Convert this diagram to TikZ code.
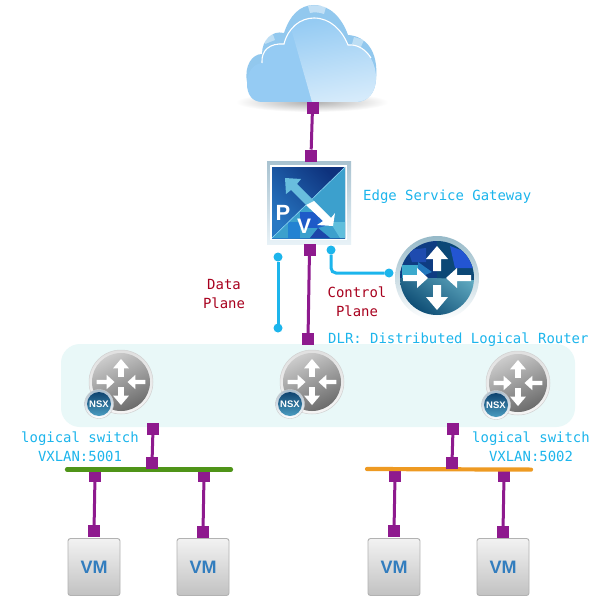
\documentclass[tikz,border=0pt]{standalone}
\usepackage{fontspec}
\newfontfamily\labelfont{DejaVu Sans Mono}
\newfontfamily\iconfont{Liberation Sans}
\definecolor{portc}{HTML}{8E1A8E}
\definecolor{cyanc}{HTML}{1CB5EC}
\definecolor{redc}{HTML}{A8001E}
\definecolor{bandc}{HTML}{E9F8F8}
\definecolor{greenc}{HTML}{4F9418}
\definecolor{orangec}{HTML}{EE9A22}
\definecolor{vmtext}{HTML}{327DBE}
\definecolor{badgetop}{HTML}{0F4470}
\definecolor{badgebot}{HTML}{4A9CC0}
\newcommand{\routerarrows}[1]{%
  \begin{scope}[scale=#1]
    \foreach \a in {0,180}
      \fill[white,rotate=\a] (34,-3)--(20,-3)--(20,-10)--(9,0)--(20,10)--(20,3)--(34,3)--cycle;
    \foreach \a in {90,270}
      \fill[white,rotate=\a] (7,-4)--(19,-4)--(19,-11)--(32,0)--(19,11)--(19,4)--(7,4)--cycle;
  \end{scope}}
\tikzset{
  port/.style={fill=portc,draw=none,minimum size=12pt,inner sep=0pt,outer sep=0pt},
  link/.style={draw=portc,line width=3pt},
  dot/.style={circle,fill=cyanc,draw=none,minimum size=9pt,inner sep=0pt,outer sep=0pt},
  ctl/.style={draw=cyanc,line width=3pt,rounded corners=5pt},
  bar/.style={line width=4.2pt,line cap=round},
  blue label/.style={text=cyanc,font=\labelfont\fontsize{13.95}{19}\selectfont,align=center,inner sep=0pt},
  red label/.style={text=redc,font=\labelfont\fontsize{13.95}{19}\selectfont,align=center,inner sep=0pt},
  pics/nsxrouter/.style={code={
    \shade[top color=white!88!black,bottom color=white!96!black,draw=white!82!black,line width=.5pt] (0,0) circle[radius=32pt];
    \shade[shading=axis,left color=white!80!black,right color=white!42!black,shading angle=25] (0,0) circle[radius=29pt];
    \routerarrows{.72}
    \shade[top color=white!65!badgetop,bottom color=white,draw=white!80!black,line width=.4pt] (-22,22) circle[radius=14.5pt];
    \shade[top color=badgetop,bottom color=badgebot] (-22,22) circle[radius=12pt];
    \node[white,inner sep=0pt,font=\iconfont\bfseries\fontsize{9.5}{10}\selectfont] at (-22,22) {NSX};
  }},
  pics/vmbox/.style={code={
    \shade[top color=white!95!black,bottom color=white!76!black,draw=white!70!black,line width=.9pt,rounded corners=2.5pt] (-26,-28.5) rectangle (26,28.5);
    \node[text=vmtext,inner sep=0pt,font=\iconfont\bfseries\fontsize{18}{18}\selectfont] at (0,0) {VM};
  }}
}
\begin{document}
\begin{tikzpicture}[x=1pt,y=-1pt]
\useasboundingbox (0,0) rectangle (615,607);
\fill[white] (0,0) rectangle (615,607);

% cloud
\shade[inner color=black!32,outer color=white] (312,102) ellipse[x radius=76pt,y radius=10pt];
\fill[fill={rgb,255:red,146;green,200;blue,238}] (247,82) .. controls (244,66) and (252,54) .. (262,54)
  .. controls (262,40) and (272,30) .. (284,33)
  .. controls (290,15) and (300,5) .. (314,5)
  .. controls (330,5) and (342,18) .. (348,35)
  .. controls (365,36) and (379,50) .. (376,80) -- (300,90) -- cycle;
\fill[white,opacity=.45] (308,6) .. controls (314,5) and (318,5) .. (326,7) -- (324,14) .. controls (318,12) and (314,12) .. (310,13) -- cycle;
\fill[white,opacity=.4] (262,36) -- (272,32) -- (275,40) -- (265,44) -- cycle;
\fill[white,opacity=.4] (354,37) -- (364,40) -- (360,49) -- (352,44) -- cycle;
\def\cloudfront{(262,102) .. controls (252,102) and (247,94) .. (247,84)
  .. controls (247,72) and (253,64) .. (262,63)
  .. controls (261,50) and (270,43) .. (284,44)
  .. controls (288,28) and (300,18) .. (314,18)
  .. controls (330,18) and (342,30) .. (348,45)
  .. controls (364,44) and (376,60) .. (376,78)
  .. controls (376,92) and (368,102) .. (356,102) -- cycle}
\fill[fill={rgb,255:red,149;green,203;blue,243}] \cloudfront;
\begin{scope}
  \clip \cloudfront;
  \shade[shading=axis,left color={rgb,255:red,149;green,203;blue,243},right color={rgb,255:red,214;green,235;blue,251},shading angle=10]
    (288,18) -- (380,18) -- (380,102) -- (312,102) -- cycle;
\end{scope}
\draw[white,line width=1.1pt] (262,63) .. controls (261,50) and (270,43) .. (284,44)
  .. controls (288,28) and (300,18) .. (314,18)
  .. controls (330,18) and (342,30) .. (348,45)
  .. controls (358,44) and (366,50) .. (371,58);

% ESG icon
\shade[top color={rgb,255:red,168;green,194;blue,208},bottom color={rgb,255:red,232;green,242;blue,247}] (267,161) rectangle (351,244);
\fill[white] (270,165) rectangle (347,240);
\begin{scope}
  \clip (272,167) rectangle (345,238);
  \shade[shading=axis,left color={rgb,255:red,14;green,50;blue,125},right color={rgb,255:red,40;green,120;blue,195},shading angle=-45] (272,167) rectangle (345,238);
  \fill[fill={rgb,255:red,60;green,160;blue,205}] (272,238) -- (345,167) -- (345,238) -- cycle;
  \fill[fill={rgb,255:red,30;green,90;blue,200}] (300,212) -- (318,212) -- (318,228) -- (300,228) -- cycle;
  \fill[fill={rgb,255:red,35;green,130;blue,210}] (288,222) -- (300,222) -- (300,238) -- (288,238) -- cycle;
  \fill[fill={rgb,255:red,28;green,70;blue,170}] (318,228) -- (330,238) -- (310,238) -- cycle;
  \fill[fill={rgb,255:red,95;green,190;blue,220}] (330,222) -- (345,222) -- (345,238) -- (340,238) -- cycle;
  \fill[fill={rgb,255:red,30;green,100;blue,200}] (318,215) -- (328,225) -- (318,228) -- cycle;
  \draw[white!60!cyan,line width=.5pt] (272,238) -- (345,167);
\end{scope}
\fill[fill={rgb,255:red,105;green,190;blue,222}] (285,178) -- (301,179) -- (297,184) -- (315,202) -- (309,208) -- (291,190) -- (286,194) -- cycle;
\fill[white] (314,201) -- (331,218) -- (335,213) -- (333,226) -- (317,225) -- (323,221) -- (306,205) -- cycle;
\node[white,inner sep=0pt,font=\iconfont\bfseries\fontsize{22}{22}\selectfont] (pletter) at (283,213) {P};
\node[white,inner sep=0pt,font=\iconfont\bfseries\fontsize{21}{21}\selectfont] (vletter) at (304,226) {V};

% top router
\shade[top color={rgb,255:red,150;green,185;blue,200},bottom color=white] (437,278) circle[radius=42pt];
\begin{scope}
  \clip (437,278) circle[radius=37pt];
  \shade[shading=axis,left color={rgb,255:red,110;green,185;blue,205},right color={rgb,255:red,12;green,75;blue,115},shading angle=-35] (400,255) rectangle (474,315);
  \fill[fill={rgb,255:red,12;green,72;blue,118}] (437,241) -- (474,241) -- (474,280) -- (437,278) -- cycle;
  \fill[fill={rgb,255:red,14;green,60;blue,130}] (400,241) -- (437,241) -- (437,278) -- (400,278) -- cycle;
  \fill[fill={rgb,255:red,35;green,85;blue,210}] (450,246) -- (466,252) -- (474,268) -- (455,268) -- cycle;
  \fill[fill={rgb,255:red,30;green,75;blue,175}] (408,250) -- (426,248) -- (426,262) -- (412,262) -- cycle;
  \fill[fill={rgb,255:red,60;green,170;blue,205}] (402,265) -- (418,265) -- (418,278) -- (402,278) -- cycle;
  \fill[fill={rgb,255:red,35;green,120;blue,190}] (418,262) -- (432,272) -- (418,278) -- cycle;
  \begin{scope}[shift={(437,278)}]\routerarrows{1}\end{scope}
\end{scope}

% DLR band
\fill[bandc,rounded corners=19pt] (61,344) rectangle (575,427);
\pic at (121,382) {nsxrouter};
\pic at (312,382) {nsxrouter};
\pic at (518,383) {nsxrouter};

% VMs
\pic at (94,567) {vmbox};
\pic at (203,567) {vmbox};
\pic at (394,567) {vmbox};
\pic at (503,567) {vmbox};

% ports
\node[port] (cloudp) at (312.5,108) {};
\node[port] (esgt) at (311,155.5) {};
\node[port] (esgb) at (309.5,250) {};
\node[port] (dlrt) at (308,339) {};
\node[port] (l1t) at (153,429) {};
\node[port] (l1a) at (95,476) {};
\node[port] (l1c) at (204,476) {};
\node[port] (vm1) at (94,531) {};
\node[port] (vm2) at (203,532) {};
\node[port] (l2t) at (453,429) {};
\node[port] (l2a) at (395,476) {};
\node[port] (l2c) at (504,476) {};
\node[port] (vm3) at (394,531) {};
\node[port] (vm4) at (503,532) {};

% bars
\coordinate (g1) at (67,469.5);
\coordinate (g2) at (231,469.5);
\coordinate (o1) at (367,469);
\coordinate (o2) at (531,469.6);
\draw[bar,greenc] (g1) -- (g2);
\draw[bar,orangec] (o1) -- (o2);
\node[port] (l1b) at (152,463) {};
\node[port] (l2b) at (452,463) {};

% links
\draw[link] (cloudp) -- (esgt);
\draw[link] (esgb) -- (dlrt);
\draw[link] (l1t) -- (l1b);
\draw[link] (l2t) -- (l2b);
\draw[link] (l1a) -- (vm1);
\draw[link] (l1c) -- (vm2);
\draw[link] (l2a) -- (vm3);
\draw[link] (l2c) -- (vm4);

% control / data lines
\node[dot] (d1) at (278,257) {};
\node[dot] (d2) at (278,328) {};
\node[dot] (c1) at (331,250) {};
\node[dot] (c2) at (389,273) {};
\draw[ctl] (d1) -- (d2);
\draw[ctl] (c1) |- (c2);

% labels
\node[blue label,anchor=west] (esgl) at (363,197) {Edge Service Gateway};
\node[blue label,anchor=west] (dlrl) at (328,340) {DLR: Distributed Logical Router};
\node[blue label] (ls1) at (80,447) {logical switch\\VXLAN:5001};
\node[blue label] (ls2) at (531,446.5) {logical switch\\VXLAN:5002};
\node[red label] (dp) at (224,294.5) {Data\\Plane};
\node[red label] (cp) at (357,301.5) {Control\\Plane};
\end{tikzpicture}
\end{document}
